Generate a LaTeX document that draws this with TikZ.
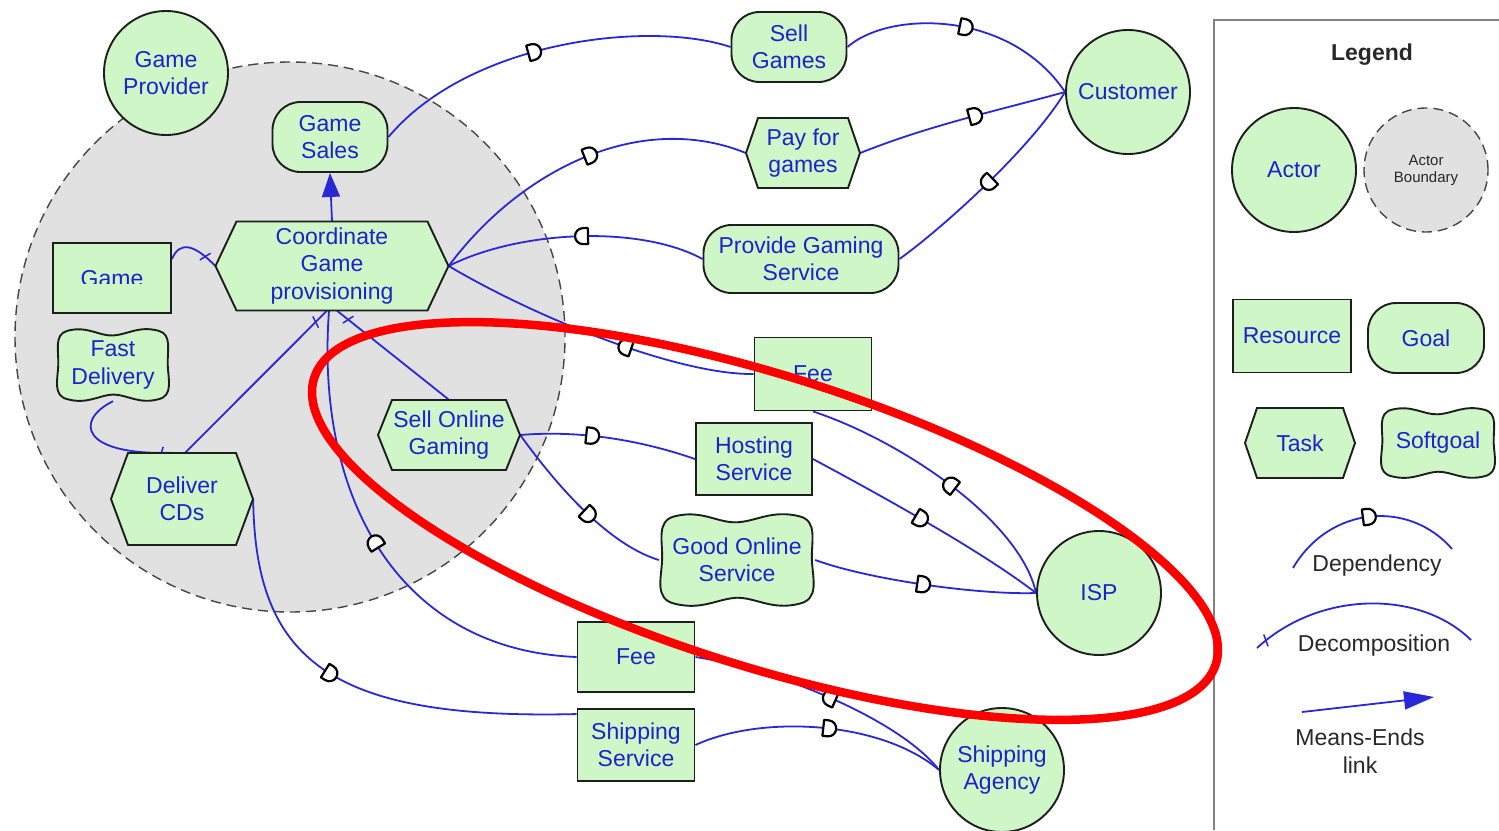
\documentclass[tikz,border=0pt]{standalone}
\usepackage{fontspec}
\setmainfont{Liberation Sans}
\usetikzlibrary{arrows.meta,decorations.markings}

\definecolor{fillg}{RGB}{206,246,198}
\definecolor{txtb}{RGB}{32,32,205}
\definecolor{linkb}{RGB}{40,40,215}
\definecolor{outl}{RGB}{30,30,30}
\definecolor{bgray}{RGB}{225,225,225}
\definecolor{dgray}{RGB}{70,70,70}
\definecolor{legtxt}{RGB}{40,40,40}
\definecolor{legbox}{RGB}{130,130,130}

\pgfdeclarelayer{bg}
\pgfdeclarelayer{links}
\pgfdeclarelayer{top}
\pgfsetlayers{bg,links,main,top}

\newcommand{\dshape}{\draw[black, line width=2.2pt, fill=white, line join=round] (-5pt,-8pt) -- (-5pt,8pt) -- (0pt,8pt) arc[start angle=90,end angle=-90,radius=8pt] -- cycle;}

\tikzset{
  shp/.style={draw=outl, fill=fillg, line width=1.9pt},
  txt/.style={text=txtb, font=\fontsize{23}{27.5}\selectfont, align=center, inner sep=0pt},
  actor/.style={shp, txt, circle, minimum size=124pt},
  goalbox/.style={shp, txt, rectangle, rounded corners=28pt},
  resbox/.style={shp, txt, rectangle},
  lbl/.style={txt, minimum width=#1},
  lgl/.style={text=legtxt, font=\fontsize{23}{27.5}\selectfont, align=center, inner sep=0pt},
  lk/.style={draw=linkb, line width=1.8pt},
  dep/.style={lk, postaction={decorate}, decoration={markings, mark=at position #1 with {\dshape}}},
  dep/.default=0.5,
  decomp/.style={lk, postaction={decorate}, decoration={markings, mark=at position #1 with {\draw[linkb, line width=1.5pt] (-2pt,-6pt) -- (2pt,6pt);}}},
  decomp/.default=0.85,
  bound/.style={draw=dgray, fill=bgray, line width=1.4pt, dash pattern=on 10pt off 6pt, circle},
}

\newcommand{\hexa}[5]{\draw[shp, shift={(#1,#2)}] (-#3,0) -- (-#3+#5,#4) -- (#3-#5,#4) -- (#3,0) -- (#3-#5,-#4) -- (-#3+#5,-#4) -- cycle;}
\newcommand{\soft}[4]{\draw[shp, shift={(#1,#2)}, xscale=#3, yscale=#4] (-0.8,0.95) .. controls (-0.45,1.1) and (-0.25,0.8) .. (0,0.82) .. controls (0.25,0.84) and (0.45,1.1) .. (0.8,0.95) .. controls (1.04,0.85) and (0.95,0.4) .. (0.96,0) .. controls (0.97,-0.4) and (1.06,-0.85) .. (0.8,-0.95) .. controls (0.45,-1.1) and (0.25,-0.82) .. (0,-0.82) .. controls (-0.25,-0.84) and (-0.45,-1.1) .. (-0.8,-0.95) .. controls (-1.06,-0.85) and (-0.97,-0.4) .. (-0.96,0) .. controls (-0.95,0.4) and (-1.04,0.85) .. (-0.8,0.95) -- cycle;}

\begin{document}
\begin{tikzpicture}[x=1pt,y=1pt]
\useasboundingbox (0,0) rectangle (1499,-830);

% background and actor boundary
\begin{pgfonlayer}{bg}
\fill[white] (0,0) rectangle (1499,-830);
\node[bound, minimum size=550pt] (bnd) at (290,-337) {};
\end{pgfonlayer}

% actors
\node[actor] (gp) at (166,-73) {Game\\Provider};
\node[actor] (cust) at (1128,-92) {Customer};
\node[actor] (isp) at (1099,-593) {ISP};
\node[actor] (sa) at (1002,-770) {Shipping\\Agency};

% goals
\node[goalbox, minimum width=115pt, minimum height=70pt] (gs) at (330,-137) {Game\\Sales};
\node[goalbox, minimum width=115pt, minimum height=70pt] (sg) at (789,-47) {Sell\\Games};
\node[goalbox, minimum width=195pt, minimum height=68pt] (pgs) at (801,-259) {Provide Gaming\\Service};

% tasks
\hexa{332}{-266}{116.5}{44.5}{21}
\node[lbl=233pt, minimum height=89pt] (cgp) at (332,-266) {Coordinate\\Game\\provisioning};
\hexa{182}{-499}{71}{46}{17}
\node[lbl=142pt, minimum height=92pt] (dcd) at (182,-499) {Deliver\\CDs};
\hexa{449}{-435}{71}{35}{14}
\node[lbl=142pt, minimum height=70pt] (sog) at (449,-435) {Sell Online\\Gaming};
\hexa{803}{-153}{57}{35}{12}
\node[lbl=114pt, minimum height=70pt] (pfg) at (803,-153) {Pay for\\games};

% softgoals
\soft{113}{-365}{57}{36}
\node[lbl=114pt, minimum height=72pt] (fd) at (113,-365) {Fast\\Delivery};
\soft{737}{-560}{78}{46}
\node[lbl=156pt, minimum height=92pt] (gos) at (737,-560) {Good Online\\Service};

% resources
\node[resbox, minimum width=118pt, minimum height=70pt] (game) at (112,-278) {};
\begin{scope}
\clip (53,-243) rectangle (171,-283);
\node[txt, anchor=base] (gametxt) at (112,-286) {Game};
\end{scope}
\node[resbox, minimum width=117pt, minimum height=73pt] (fee1) at (813,-374) {Fee};
\node[resbox, minimum width=116pt, minimum height=72pt] (hs) at (754,-459) {Hosting\\Service};
\node[resbox, minimum width=117pt, minimum height=70pt] (fee2) at (636,-657) {Fee};
\node[resbox, minimum width=117pt, minimum height=72pt] (ss) at (636,-745) {Shipping\\Service};

% links
\begin{pgfonlayer}{links}
\draw[lk, -{Triangle[length=24pt,width=18pt]}] (cgp.north) -- (gs.south);
\draw[decomp=0.75] ([yshift=-17pt]game.north east) .. controls (180,-240) and (195,-245) .. (cgp.west);
\draw[decomp=0.9] (sog.north) -- ([xshift=5pt]cgp.south);
\draw[decomp=0.92] ([xshift=3pt]dcd.north) -- ([xshift=-5pt]cgp.south);
\draw[decomp=0.93] (fd.south) .. controls (75,-420) and (80,-455) .. ([xshift=-12pt]dcd.north);

\draw[dep=0.46] (gs.east) .. controls (470,-40) and (650,-20) .. (sg.west);
\draw[dep=0.5] (sg.east) .. controls (890,-10) and (1010,-10) .. (cust.west);
\draw[dep=0.53] (cgp.east) .. controls (520,-170) and (640,-110) .. (pfg.west);
\draw[dep=0.56] (pfg.east) .. controls (930,-125) and (1000,-110) .. (cust.west);
\draw[dep=0.47] (pgs.west) .. controls (640,-225) and (520,-230) .. (cgp.east);
\draw[dep=0.5] (cust.west) .. controls (1030,-150) and (940,-230) .. (pgs.east);
\draw[dep=0.4] (fee1.west) .. controls (680,-375) and (540,-320) .. (cgp.east);
\draw[dep=0.47] (isp.west) .. controls (1020,-520) and (900,-440) .. (fee1.south);
\draw[dep=0.4] (sog.east) .. controls (580,-430) and (640,-440) .. (hs.west);
\draw[dep=0.47] (hs.east) .. controls (880,-495) and (980,-550) .. (isp.west);
\draw[dep=0.55] (sog.east) .. controls (560,-490) and (610,-545) .. (gos.west);
\draw[dep=0.49] (gos.east) .. controls (870,-580) and (980,-595) .. (isp.west);
\draw[dep=0.5] (fee2.west) .. controls (400,-650) and (315,-500) .. ([xshift=-3pt]cgp.south);
\draw[dep=0.48] (sa.west) .. controls (900,-720) and (780,-670) .. (fee2.east);
\draw[dep=0.44] (dcd.east) .. controls (255,-660) and (330,-720) .. ([yshift=-6pt]ss.north west);
\draw[dep=0.53] (ss.east) .. controls (760,-715) and (880,-720) .. (sa.west);
\end{pgfonlayer}

% legend
\draw[legbox, line width=1.5pt] (1214,-830) -- (1214,-20) -- (1499,-20);
\node[lgl, font=\bfseries\fontsize{23}{27.5}\selectfont] (legt) at (1372,-55) {Legend};
\node[actor] (lact) at (1294,-170) {Actor};
\node[bound, minimum size=124pt, text=legtxt, font=\fontsize{15}{17}\selectfont, align=center, inner sep=0pt] (lbd) at (1426,-170) {Actor\\Boundary};
\node[resbox, minimum width=118pt, minimum height=73pt] (lres) at (1292,-336) {Resource};
\node[goalbox, minimum width=116pt, minimum height=70pt] (lgoal) at (1426,-338) {Goal};
\hexa{1300}{-443}{55}{35}{12}
\node[lbl=110pt, minimum height=70pt] (ltask) at (1300,-443) {Task};
\soft{1438}{-443}{58}{35}
\node[lbl=116pt, minimum height=70pt] (lsoft) at (1438,-443) {Softgoal};

\coordinate (dA) at (1293,-568);
\coordinate (dB) at (1452,-549);
\draw[dep=0.5] (dA) .. controls (1330,-505) and (1410,-500) .. (dB);
\node[lgl] (ldep) at (1377,-566) {Dependency};
\coordinate (cA) at (1257,-648);
\coordinate (cB) at (1471,-640);
\draw[decomp=0.05] (cA) .. controls (1320,-590) and (1420,-590) .. (cB);
\node[lgl] (ldec) at (1374,-646) {Decomposition};
\coordinate (mA) at (1302,-712);
\coordinate (mB) at (1434,-697);
\draw[lk, -{Triangle[length=30pt,width=18pt]}] (mA) -- (mB);
\node[lgl] (lme) at (1360,-751) {Means-Ends\\link};

% red highlight
\begin{pgfonlayer}{top}
\draw[red, line width=8.5pt, rotate around={-17.6:(765,-521)}] (765,-521) ellipse [x radius=473pt, y radius=145pt];
\end{pgfonlayer}
\end{tikzpicture}
\end{document}
